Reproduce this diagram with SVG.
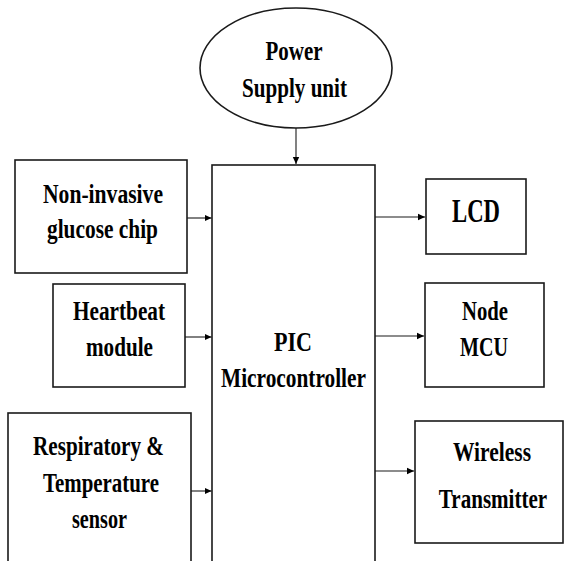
<svg xmlns="http://www.w3.org/2000/svg" width="564" height="561" viewBox="0 0 564 561">
<defs>
<style>
.box{fill:#fff;stroke:#1a1a1a;stroke-width:1.6}
.t{font-family:"Liberation Serif","Times New Roman",serif;font-weight:bold;font-size:27px;fill:#000;text-anchor:middle}
.big{font-size:34px}
.c{stroke:#1a1a1a;stroke-width:1.1;fill:none;marker-end:url(#ah)}
</style>
<marker id="ah" markerUnits="userSpaceOnUse" markerWidth="8" markerHeight="8" refX="7" refY="4" orient="auto">
<path d="M0,0.8 L7,4 L0,7.2 Z" fill="#000"/>
</marker>
</defs>
<rect width="564" height="561" fill="#fff"/>
<g id="power">
<ellipse class="box" cx="296" cy="68" rx="96" ry="60"/>
<text class="t" x="294" y="60" textLength="57" lengthAdjust="spacingAndGlyphs">Power</text>
<text class="t" x="294.5" y="97" textLength="105" lengthAdjust="spacingAndGlyphs">Supply unit</text>
</g>
<g id="pic">
<rect class="box" x="212" y="165" width="163" height="410"/>
<text class="t" x="293" y="351" textLength="38" lengthAdjust="spacingAndGlyphs">PIC</text>
<text class="t" x="293.5" y="387" textLength="145" lengthAdjust="spacingAndGlyphs">Microcontroller</text>
</g>
<g id="glucose">
<rect class="box" x="15" y="160" width="172" height="113"/>
<text class="t" x="103" y="203" textLength="120" lengthAdjust="spacingAndGlyphs">Non-invasive</text>
<text class="t" x="102.5" y="238" textLength="111" lengthAdjust="spacingAndGlyphs">glucose chip</text>
</g>
<g id="heartbeat">
<rect class="box" x="53" y="284" width="132" height="103"/>
<text class="t" x="119" y="320" textLength="92" lengthAdjust="spacingAndGlyphs">Heartbeat</text>
<text class="t" x="119.5" y="356" textLength="67" lengthAdjust="spacingAndGlyphs">module</text>
</g>
<g id="respiratory">
<rect class="box" x="8" y="413" width="183" height="160"/>
<text class="t" x="98.5" y="455" textLength="131" lengthAdjust="spacingAndGlyphs">Respiratory &amp;</text>
<text class="t" x="101" y="492" textLength="116" lengthAdjust="spacingAndGlyphs">Temperature</text>
<text class="t" x="99.5" y="528" textLength="55" lengthAdjust="spacingAndGlyphs">sensor</text>
</g>
<g id="lcd">
<rect class="box" x="426" y="179" width="100" height="75"/>
<text class="t big" x="476" y="222" textLength="48" lengthAdjust="spacingAndGlyphs">LCD</text>
</g>
<g id="nodemcu">
<rect class="box" x="425" y="283" width="119" height="104"/>
<text class="t" x="485" y="320" textLength="46" lengthAdjust="spacingAndGlyphs">Node</text>
<text class="t" x="484" y="356" textLength="48" lengthAdjust="spacingAndGlyphs">MCU</text>
</g>
<g id="wireless">
<rect class="box" x="415" y="421" width="148" height="122"/>
<text class="t" x="492" y="461" textLength="78" lengthAdjust="spacingAndGlyphs">Wireless</text>
<text class="t" transform="translate(493,508) scale(0.78,1)">Transmitter</text>
</g>
<g id="connectors">
<line class="c" x1="296" y1="128" x2="296" y2="164"/>
<line class="c" x1="187" y1="218" x2="211.5" y2="218"/>
<line class="c" x1="185" y1="337" x2="211.5" y2="337"/>
<line class="c" x1="191" y1="491" x2="211.5" y2="491"/>
<line class="c" x1="375" y1="217" x2="425" y2="217"/>
<line class="c" x1="375" y1="336" x2="424" y2="336"/>
<line class="c" x1="375" y1="471" x2="414" y2="471"/>
</g>
</svg>
